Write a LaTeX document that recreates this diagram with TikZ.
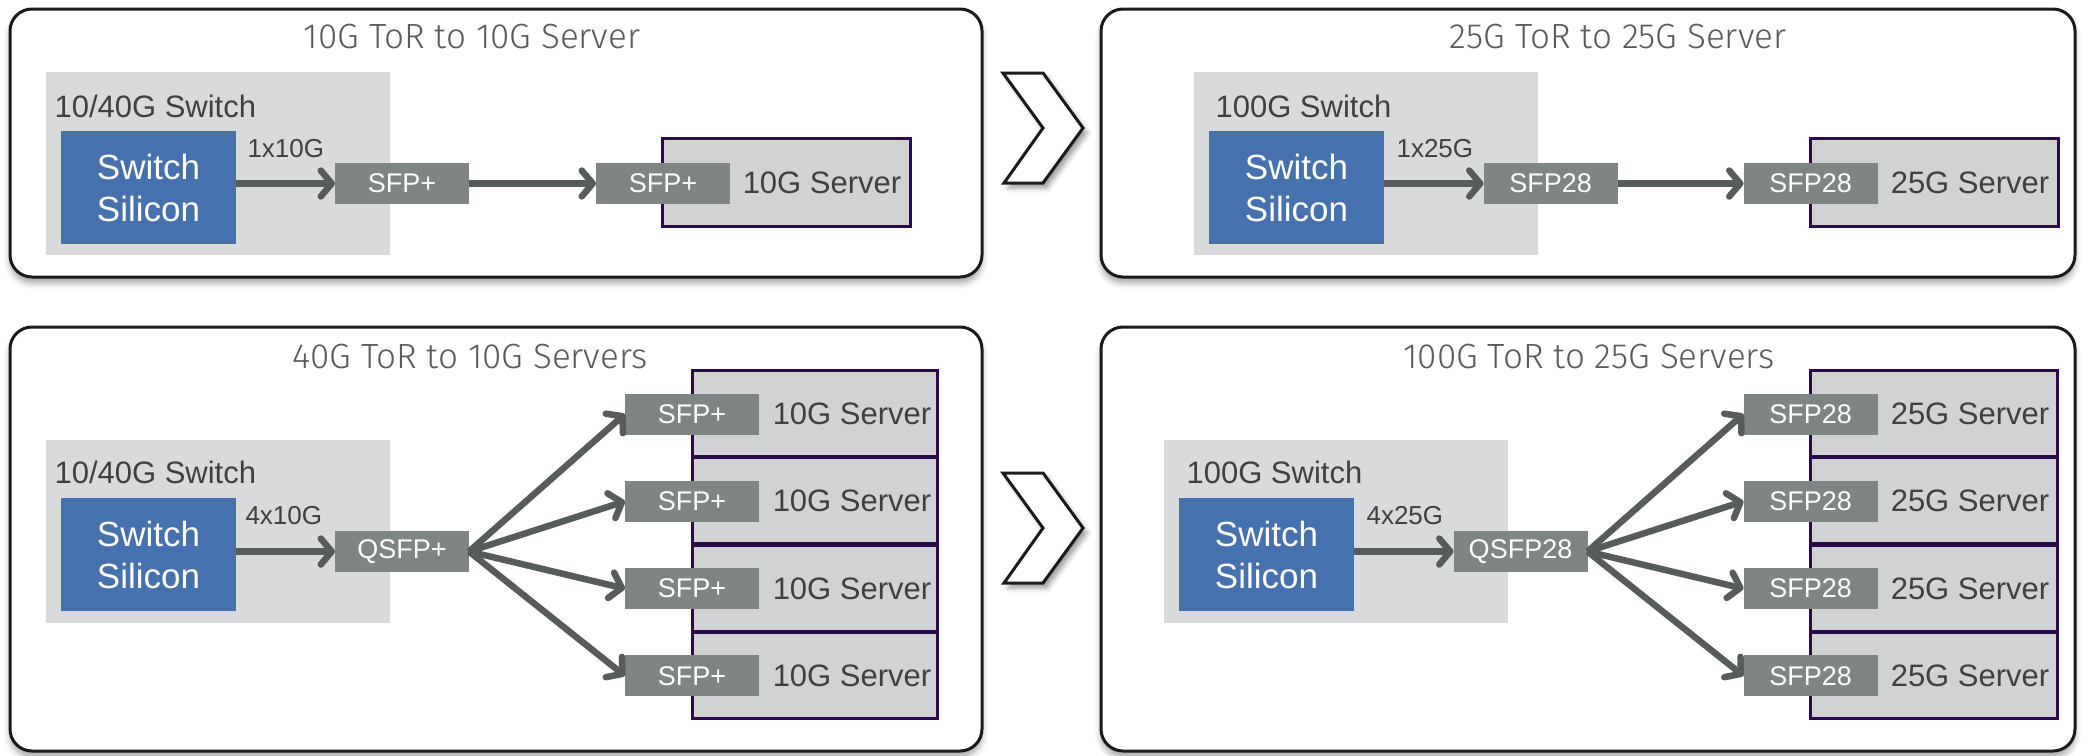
\documentclass[tikz,border=0pt]{standalone}
\usepackage{fontspec}
\setmainfont{Liberation Sans}
\newfontfamily\titlefont{Fira Sans Light}
\usepackage{xcolor}
\usetikzlibrary{arrows.meta}
\usetikzlibrary{math, shadows.blur}
\definecolor{qline}{RGB}{26,26,26}
\definecolor{qswitch}{RGB}{217,218,219}
\definecolor{qblue}{RGB}{69,113,174}
\definecolor{qsfp}{RGB}{127,133,131}
\definecolor{qserver}{RGB}{209,210,212}
\definecolor{qpurple}{RGB}{45,10,80}
\definecolor{qarrow}{RGB}{87,91,90}
\definecolor{qtext}{RGB}{64,64,64}
\definecolor{qtitle}{RGB}{90,90,90}

\begin{document}
\begin{tikzpicture}[x=1pt,y=-1pt,
  panel/.style={draw=qline, line width=3pt, rounded corners=22pt, fill=white,
    blur shadow={shadow xshift=0pt, shadow yshift=-6pt, shadow blur radius=6pt, shadow opacity=35}},
  chev/.style={draw=qline, line width=3pt, line join=miter, fill=white,
    blur shadow={shadow xshift=4pt, shadow yshift=-5pt, shadow blur radius=5pt, shadow opacity=40}},
  titletext/.style={anchor=base, text=qtitle, font=\titlefont\fontsize{35}{42}\selectfont},
  swbox/.style={fill=qswitch, inner sep=0pt, outer sep=0pt, minimum width=344pt, minimum height=183pt, anchor=north west},
  swlabel/.style={anchor=base west, text=qtext, font=\fontsize{31}{37}\selectfont},
  silicon/.style={fill=qblue, text=white, align=center, inner sep=0pt, outer sep=0pt,
    minimum width=175pt, minimum height=113pt, font=\fontsize{35}{42}\selectfont},
  speed/.style={anchor=base west, text=qtext, font=\fontsize{26}{31}\selectfont},
  sfp/.style={fill=qsfp, text=white, inner sep=0pt, outer sep=0pt,
    minimum width=134pt, minimum height=41pt, font=\fontsize{27}{32}\selectfont},
  server/.style={fill=qserver, draw=qpurple, line width=3pt, inner sep=0pt, outer sep=0pt},
  srvlabel/.style={text=qtext, font=\fontsize{31}{37}\selectfont},
  link/.style={draw=qarrow, line width=6.5pt, -{Straight Barb[round, length=11pt, width=26pt]}}]
\tikzmath{
\dx=1148;
\ex=1118;
}
\useasboundingbox (0,0) rectangle (2087,755);

% panels
\draw[panel] (10,9) rectangle (982,277);
\draw[panel] (1101,9) rectangle (2075,277);
\draw[panel] (10,327) rectangle (982,751);
\draw[panel] (1101,327) rectangle (2075,751);

% chevrons
\draw[chev] (1003,73) -- (1043,73) -- (1083,128) -- (1043,183) -- (1004,183) -- (1043,128) -- cycle;
\draw[chev] (1003,473) -- (1043,473) -- (1083,528) -- (1043,583) -- (1004,583) -- (1043,528) -- cycle;

% 10G ToR to 10G Server
\node[titletext] (tlT) at (472,48) {10G ToR to 10G Server};
\node[swbox] (tlSw) at (46,72) {};
\node[swlabel] (tlSwL) at (51,117) {10/40G Switch};
\node[silicon] (tlSi) at (148.5,187.5) {Switch\\Silicon};
\node[speed] (tlSp) at (244,157) {1x10G};
\node[sfp] (tlA) at (402,183.5) {SFP+};
\node[server, minimum width=248pt, minimum height=88pt] (tlSv) at (786,182) {};
\node[sfp] (tlB) at (663,183.5) {SFP+};
\node[srvlabel] (tlSvL) at (822,183) {10G Server};
\draw[link] (tlSi.east |- tlA) -- (tlA.west);
\draw[link] (tlA.east) -- (tlB.west);

% 25G ToR to 25G Server
\node[titletext] (trT) at (1618,48) {25G ToR to 25G Server};
\node[swbox] (trSw) at (46+\dx,72) {};
\node[swlabel] (trSwL) at (1212,117) {100G Switch};
\node[silicon] (trSi) at (148.5+\dx,187.5) {Switch\\Silicon};
\node[speed] (trSp) at (1393,157) {1x25G};
\node[sfp] (trA) at (1550.5,183.5) {SFP28};
\node[server, minimum width=248pt, minimum height=88pt] (trSv) at (786+\dx,182) {};
\node[sfp] (trB) at (1810.5,183.5) {SFP28};
\node[srvlabel] (trSvL) at (1970,183) {25G Server};
\draw[link] (trSi.east |- trA) -- (trA.west);
\draw[link] (trA.east) -- (trB.west);

% 40G ToR to 10G Servers
\node[titletext] (blT) at (470,368) {40G ToR to 10G Servers};
\node[swbox] (blSw) at (46,440) {};
\node[swlabel] (blSwL) at (51,483) {10/40G Switch};
\node[silicon] (blSi) at (148.5,554.5) {Switch\\Silicon};
\node[speed] (blSp) at (242,524) {4x10G};
\node[sfp] (blQ) at (402,551.5) {QSFP+};
\draw[link] (blSi.east |- blQ) -- (blQ.west);
\foreach \i [evaluate=\i as \yy using 414+87.3*\i] in {0,...,3} {
  \node[server, minimum width=245pt, minimum height=86pt] (blSv\i) at (814.5,\yy-0.5) {};
  \node[sfp] (blS\i) at (692,\yy) {SFP+};
  \node[srvlabel] (blL\i) at (852,\yy) {10G Server};
  \draw[link] (blQ.east) -- (blS\i.west);
}

% 100G ToR to 25G Servers
\node[titletext] (brT) at (1589,368) {100G ToR to 25G Servers};
\node[swbox] (brSw) at (46+\ex,440) {};
\node[swlabel] (brSwL) at (1183,483) {100G Switch};
\node[silicon] (brSi) at (148.5+\ex,554.5) {Switch\\Silicon};
\node[speed] (brSp) at (1363,524) {4x25G};
\node[sfp] (brQ) at (1520.5,551.5) {QSFP28};
\draw[link] (brSi.east |- brQ) -- (brQ.west);
\foreach \i [evaluate=\i as \yy using 414+87.3*\i] in {0,...,3} {
  \node[server, minimum width=247pt, minimum height=86pt] (brSv\i) at (1933.5,\yy-0.5) {};
  \node[sfp] (brS\i) at (1810.5,\yy) {SFP28};
  \node[srvlabel] (brL\i) at (1970,\yy) {25G Server};
  \draw[link] (brQ.east) -- (brS\i.west);
}
\end{tikzpicture}
\end{document}
